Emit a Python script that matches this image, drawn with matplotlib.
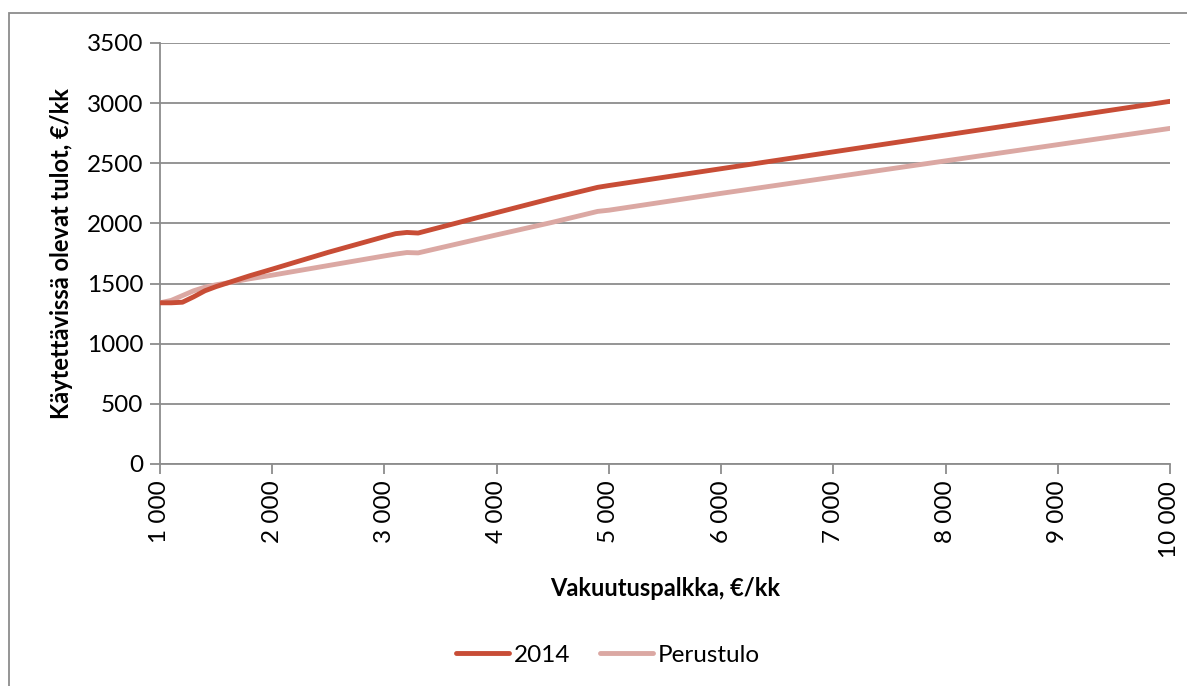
import matplotlib
matplotlib.use("Agg")
import matplotlib.pyplot as plt
from matplotlib.patches import Rectangle
from matplotlib.ticker import FuncFormatter

plt.rcParams['font.family'] = ['Lato', 'DejaVu Sans']

salary = [1000, 1100, 1200, 1300, 1400, 1500, 1600, 1800, 2000, 2500, 3000, 3100,
          3200, 3300, 4000, 4500, 4900, 5000, 6000, 7000, 8000, 9000, 10000]
income_2014 = [1340, 1340, 1345, 1390, 1440, 1475, 1505, 1565, 1620, 1760, 1890, 1915,
               1925, 1920, 2090, 2210, 2300, 2315, 2455, 2595, 2735, 2875, 3015]
income_basic = [1340, 1360, 1400, 1440, 1470, 1490, 1505, 1540, 1570, 1650, 1730, 1745,
                1758, 1755, 1905, 2010, 2100, 2110, 2250, 2385, 2520, 2655, 2790]
x_ticks = [1000, 2000, 3000, 4000, 5000, 6000, 7000, 8000, 9000, 10000]
y_ticks = [0, 500, 1000, 1500, 2000, 2500, 3000, 3500]

fig = plt.figure(figsize=(11.87, 6.86), dpi=100)
ax = fig.add_axes([160/1187, 1-464/686, (1170-160)/1187, (464-43)/686])

ax.plot(salary, income_2014, color='#C84D36', lw=3.5, label='2014', solid_capstyle='round', zorder=4)
ax.plot(salary, income_basic, color='#DBA8A3', lw=3.5, label='Perustulo', solid_capstyle='round', zorder=3)

ax.set_xlim(1000, 10000)
ax.set_ylim(0, 3500)
ax.set_xticks(x_ticks)
ax.set_yticks(y_ticks)
ax.xaxis.set_major_formatter(FuncFormatter(lambda v, p: f"{int(v):,}".replace(",", " ")))
ax.grid(axis='y', color='#8C8C8C', lw=1.3)
ax.set_axisbelow(True)
for s in ['top', 'right']:
    ax.spines[s].set_visible(False)
for s in ['left', 'bottom']:
    ax.spines[s].set_color('#8C8C8C')
    ax.spines[s].set_linewidth(1.3)
ax.tick_params(axis='both', colors='#8C8C8C', labelcolor='black', length=7, width=1.3, labelsize=17.5)
ax.tick_params(axis='x', rotation=90, pad=5)
ax.tick_params(axis='y', pad=5)

ax.set_xlabel('Vakuutuspalkka, €/kk', fontsize=17, fontweight='bold', labelpad=14)
ax.set_ylabel('Käytettävissä olevat tulot, €/kk', fontsize=17, fontweight='bold', labelpad=10)

leg = fig.legend(loc='center', bbox_to_anchor=(608/1187, 1-655/686), ncol=2, frameon=False,
                 fontsize=17.5, handlelength=2.2, columnspacing=1.2, handletextpad=0.2)

fig.patches.append(Rectangle((9/1187, -0.01), 1.1, 1-13/686+0.01, transform=fig.transFigure,
                             fill=False, edgecolor='#8C8C8C', lw=1.3))

fig.savefig('out.png', dpi=100)
